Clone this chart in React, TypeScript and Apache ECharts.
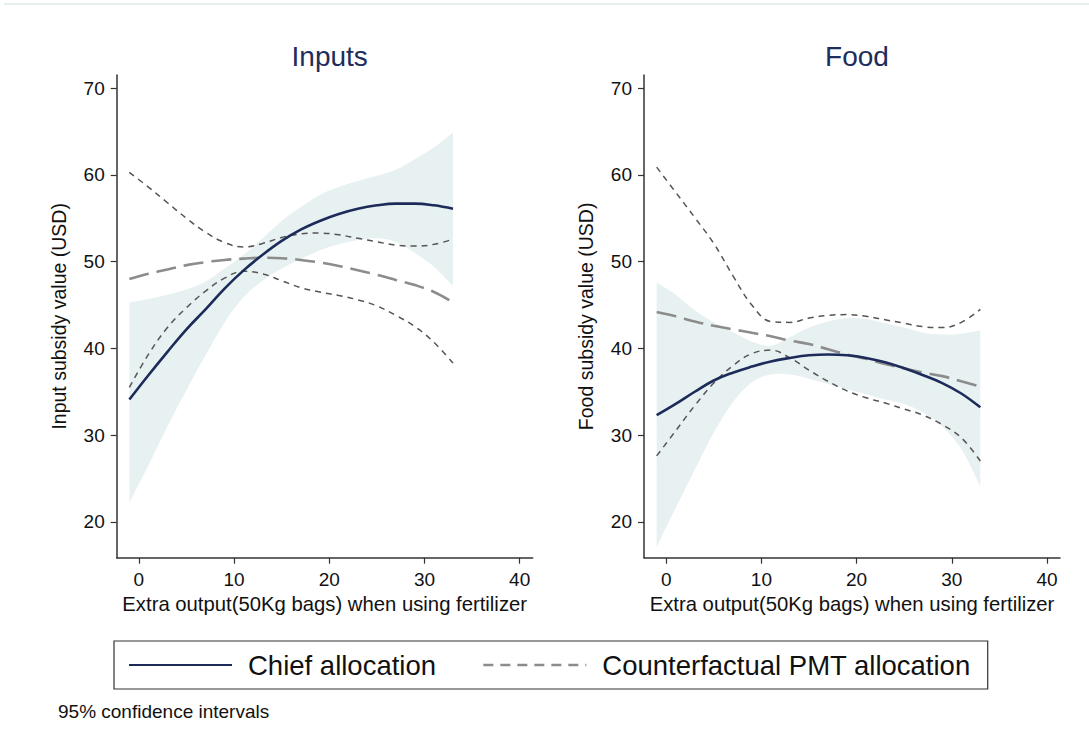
import React, { useEffect, useRef } from "react";
import * as echarts from "echarts";

// x grid (extra output, 50Kg bags)
const xs = [-1, 1, 3, 5, 7, 9, 11, 13, 15, 17, 19, 21, 23, 25, 27, 29, 31, 33];

// Inputs panel
const inChief = [34.1, 36.9, 39.6, 42.2, 44.5, 46.9, 49.0, 50.8, 52.4, 53.7, 54.7, 55.5, 56.1, 56.5, 56.7, 56.7, 56.5, 56.1];
const inChiefHi = [45.3, 45.7, 46.2, 46.8, 47.7, 49.2, 50.8, 52.7, 54.7, 56.3, 57.7, 58.6, 59.3, 59.9, 60.6, 61.8, 63.2, 64.9];
const inChiefLo = [22.2, 26.5, 31.0, 35.2, 39.2, 43.0, 45.9, 47.8, 49.2, 50.3, 51.3, 52.0, 52.5, 52.7, 52.3, 51.0, 49.4, 47.2];
const inPmt = [48.0, 48.6, 49.1, 49.6, 49.95, 50.2, 50.35, 50.45, 50.4, 50.2, 49.9, 49.5, 49.0, 48.5, 47.9, 47.3, 46.5, 45.3];
const inPmtHi = [60.3, 58.6, 56.8, 55.0, 53.4, 52.2, 51.7, 52.1, 52.8, 53.2, 53.3, 53.1, 52.7, 52.3, 51.9, 51.8, 52.0, 52.6];
const inPmtLo = [35.5, 39.3, 42.4, 44.7, 46.6, 48.1, 48.9, 48.6, 47.8, 47.0, 46.5, 46.1, 45.6, 44.9, 43.8, 42.5, 40.7, 38.3];

// Food panel
const fdChief = [32.3, 33.6, 35.0, 36.3, 37.2, 37.9, 38.5, 38.9, 39.2, 39.3, 39.2, 38.9, 38.4, 37.7, 36.9, 36.0, 34.8, 33.2];
const fdChiefHi = [47.6, 46.2, 44.4, 43.0, 41.9, 40.8, 40.3, 41.3, 42.4, 43.1, 43.5, 43.4, 42.9, 42.4, 41.8, 41.6, 41.7, 42.1];
const fdChiefLo = [17.1, 21.6, 26.0, 30.3, 33.8, 36.1, 37.0, 37.0, 36.5, 35.9, 35.3, 34.7, 34.1, 33.6, 32.6, 31.0, 28.4, 24.1];
const fdPmt = [44.2, 43.7, 43.1, 42.6, 42.2, 41.8, 41.4, 40.9, 40.5, 39.9, 39.3, 38.8, 38.2, 37.7, 37.2, 36.8, 36.2, 35.6];
const fdPmtHi = [60.9, 58.0, 55.1, 52.1, 48.4, 45.0, 43.1, 43.0, 43.5, 43.8, 43.9, 43.7, 43.3, 42.9, 42.5, 42.4, 43.0, 44.5];
const fdPmtLo = [27.6, 30.5, 33.4, 36.0, 38.0, 39.4, 39.8, 38.9, 37.5, 36.2, 35.1, 34.3, 33.7, 33.0, 32.3, 31.2, 29.7, 27.0];

const xTicks = [0, 10, 20, 30, 40];
const yTicks = [20, 30, 40, 50, 60, 70];
const panelTitles = ["Inputs", "Food"];
const yTitles = ["Input subsidy value (USD)", "Food subsidy value (USD)"];
const xTitle = "Extra output(50Kg bags) when using fertilizer";
const seriesNames = ["Chief allocation", "Counterfactual PMT allocation"];
const note = "95% confidence intervals";

const FONT = "'Liberation Sans', Arial, Helvetica, sans-serif";
const NAVY = "#1c2b5a";
const BAND = "#e8f1f1";
const PMT = "#8c8c8c";
const CI = "#555555";

const pairs = (ys: number[]) => xs.map((x, i) => [x, ys[i]]);

// Catmull-Rom spline through pixel points -> SVG path segments (without initial M)
function splineSegs(pts: number[][]): string {
  let d = "";
  const n = pts.length;
  for (let i = 0; i < n - 1; i++) {
    const p0 = pts[Math.max(0, i - 1)];
    const p1 = pts[i];
    const p2 = pts[i + 1];
    const p3 = pts[Math.min(n - 1, i + 2)];
    const c1x = p1[0] + (p2[0] - p0[0]) / 6;
    const c1y = p1[1] + (p2[1] - p0[1]) / 6;
    const c2x = p2[0] - (p3[0] - p1[0]) / 6;
    const c2y = p2[1] - (p3[1] - p1[1]) / 6;
    d += ` C ${c1x} ${c1y} ${c2x} ${c2y} ${p2[0]} ${p2[1]}`;
  }
  return d;
}

function bandSeries(idx: number, hi: number[], lo: number[]) {
  return {
    type: "custom",
    name: "band" + idx,
    xAxisIndex: idx,
    yAxisIndex: idx,
    silent: true,
    z: 1,
    data: xs.map((x, i) => [x, lo[i], hi[i]]),
    renderItem: (params: any, api: any) => {
      if (params.dataIndex !== 0) return null;
      const top = xs.map((x, i) => api.coord([x, hi[i]]));
      const bottom = xs.map((x, i) => api.coord([x, lo[i]])).reverse();
      const d =
        `M ${top[0][0]} ${top[0][1]}` +
        splineSegs(top) +
        ` L ${bottom[0][0]} ${bottom[0][1]}` +
        splineSegs(bottom) +
        " Z";
      return {
        type: "path",
        shape: { pathData: d },
        style: { fill: BAND, stroke: "none" },
      };
    },
  };
}

function panelSeries(idx: number, chief: number[], hi: number[], lo: number[], pmt: number[], pHi: number[], pLo: number[]) {
  const common = { xAxisIndex: idx, yAxisIndex: idx, symbol: "none", smooth: 0.4, silent: true };
  return [
    bandSeries(idx, hi, lo),
    { ...common, type: "line", name: "ciHi" + idx, data: pairs(pHi), lineStyle: { color: CI, width: 1.5, type: [6, 5] }, z: 3 },
    { ...common, type: "line", name: "ciLo" + idx, data: pairs(pLo), lineStyle: { color: CI, width: 1.5, type: [6, 5] }, z: 3 },
    { ...common, type: "line", name: seriesNames[1], data: pairs(pmt), lineStyle: { color: PMT, width: 2.6, type: [20, 8] }, itemStyle: { color: PMT }, z: 4 },
    { ...common, type: "line", name: seriesNames[0], data: pairs(chief), lineStyle: { color: NAVY, width: 2.6 }, itemStyle: { color: NAVY }, z: 5 },
  ];
}

export default function App() {
  const ref = useRef<HTMLDivElement>(null);
  useEffect(() => {
    if (!ref.current) return;
    const chart = echarts.init(ref.current, null, { renderer: "svg" });
    const lefts = [116.7, 644];
    const grid = lefts.map((l) => ({ left: l, top: 75, width: 416, height: 482.7 }));
    const xAxis = lefts.map((_, i) => ({
      type: "value",
      gridIndex: i,
      min: -2.33,
      max: 41.37,
      name: xTitle,
      nameLocation: "middle",
      nameGap: 29,
      nameTextStyle: { fontFamily: FONT, fontSize: 20.3, color: "#111" },
      axisLine: { show: true, onZero: false, lineStyle: { color: "#333", width: 1.5 } },
      axisTick: { show: true, length: 6, customValues: xTicks, lineStyle: { color: "#333", width: 1.2 } },
      axisLabel: { customValues: xTicks, margin: 12, fontFamily: FONT, fontSize: 19, color: "#111" },
      splitLine: { show: false },
    }));
    const yAxis = lefts.map((_, i) => ({
      type: "value",
      gridIndex: i,
      min: 15.86,
      max: 71.53,
      name: yTitles[i],
      nameLocation: "middle",
      nameGap: 48,
      nameTextStyle: { fontFamily: FONT, fontSize: 19.5, color: "#111" },
      axisLine: { show: true, onZero: false, lineStyle: { color: "#333", width: 1.5 } },
      axisTick: { show: true, length: 6, customValues: yTicks, lineStyle: { color: "#333", width: 1.2 } },
      axisLabel: { customValues: yTicks, margin: 12, fontFamily: FONT, fontSize: 19, color: "#111" },
      splitLine: { show: false },
    }));
    chart.setOption({
      animation: false,
      backgroundColor: "#ffffff",
      title: [
        { text: panelTitles[0], left: 324.7, top: 37, textAlign: "center", textStyle: { fontFamily: FONT, fontSize: 28, fontWeight: "normal", color: "#1e2d5c" } },
        { text: panelTitles[1], left: 852, top: 37, textAlign: "center", textStyle: { fontFamily: FONT, fontSize: 28, fontWeight: "normal", color: "#1e2d5c" } },
        { text: note, left: 58, top: 702, padding: 0, textStyle: { fontFamily: FONT, fontSize: 19, fontWeight: "normal", color: "#111" } },
      ],
      legend: {
        show: true,
        left: 114,
        top: 641,
        orient: "horizontal",
        borderColor: "#333",
        borderWidth: 1.2,
        padding: [10, 17, 10, 14],
        itemWidth: 103,
        itemHeight: 14,
        itemGap: 46,
        selectedMode: false,
        itemStyle: { color: "rgba(0,0,0,0)", borderColor: "rgba(0,0,0,0)", borderWidth: 0, opacity: 0 },
        data: [
          { name: seriesNames[0] },
          { name: seriesNames[1], lineStyle: { type: [10, 7], width: 2.6, color: PMT } },
        ],
        textStyle: { fontFamily: FONT, fontSize: 27.5, color: "#111", padding: [0, 0, 0, 11] },
      },
      graphic: [
        { type: "line", shape: { x1: 4, y1: 4, x2: 1089, y2: 4 }, style: { stroke: "#dde8ea", lineWidth: 1.5 }, silent: true },
      ],
      grid,
      xAxis,
      yAxis,
      series: [
        ...panelSeries(0, inChief, inChiefHi, inChiefLo, inPmt, inPmtHi, inPmtLo),
        ...panelSeries(1, fdChief, fdChiefHi, fdChiefLo, fdPmt, fdPmtHi, fdPmtLo),
      ],
    });
    return () => chart.dispose();
  }, []);
  return <div ref={ref} style={{ position: "absolute", left: 0, top: 0, width: 1089, height: 741, background: "#fff" }} />;
}
